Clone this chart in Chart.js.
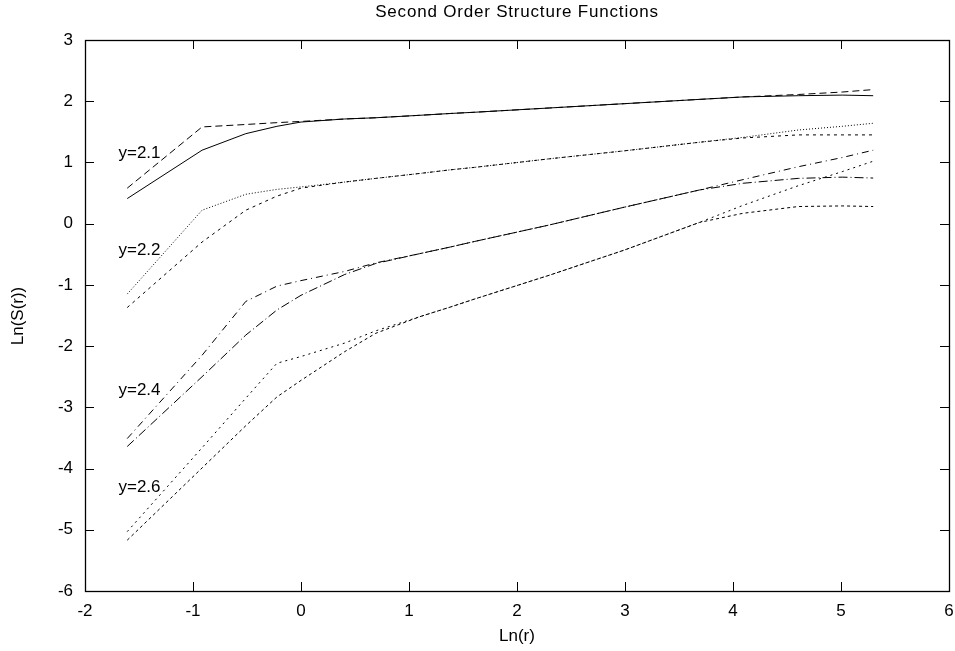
<!DOCTYPE html>
<html>
<head>
<meta charset="utf-8">
<script src="https://cdn.jsdelivr.net/npm/chart.js@4"></script>
<style>
  html, body { margin: 0; padding: 0; background: #fff; }
</style>
</head>
<body>
<canvas id="sf" width="955" height="651"></canvas>
<script>
// ln(r) sample points shared by every curve
const lnR = [-1.609, -0.916, -0.511, -0.223, 0, 0.405, 0.693, 1.099, 1.386, 1.609, 2.303, 2.996, 3.689, 4.094, 4.605, 5.011, 5.298];

// Ln(S(r)) for each y, two curves per y
const y21a = [0.41, 1.20, 1.47, 1.59, 1.66, 1.71, 1.73, 1.77, 1.80, 1.82, 1.89, 1.96, 2.03, 2.07, 2.09, 2.10, 2.09];
const y21b = [0.58, 1.58, 1.62, 1.65, 1.67, 1.71, 1.73, 1.77, 1.80, 1.82, 1.89, 1.96, 2.03, 2.07, 2.11, 2.15, 2.19];
const y22a = [-1.15, 0.22, 0.48, 0.56, 0.60, 0.68, 0.74, 0.82, 0.88, 0.92, 1.06, 1.19, 1.33, 1.41, 1.53, 1.59, 1.64];
const y22b = [-1.37, -0.30, 0.22, 0.45, 0.58, 0.68, 0.74, 0.82, 0.88, 0.92, 1.06, 1.19, 1.33, 1.40, 1.45, 1.45, 1.45];
const y24a = [-3.51, -2.15, -1.27, -1.02, -0.93, -0.78, -0.64, -0.49, -0.38, -0.29, -0.02, 0.27, 0.55, 0.72, 0.93, 1.08, 1.20];
const y24b = [-3.64, -2.50, -1.82, -1.41, -1.17, -0.83, -0.65, -0.49, -0.38, -0.29, -0.02, 0.27, 0.55, 0.66, 0.74, 0.76, 0.745];
const y26a = [-5.03, -3.66, -2.85, -2.28, -2.17, -1.95, -1.75, -1.52, -1.36, -1.23, -0.84, -0.43, 0.02, 0.30, 0.62, 0.85, 1.02];
const y26b = [-5.17, -3.99, -3.30, -2.83, -2.56, -2.09, -1.79, -1.52, -1.36, -1.23, -0.84, -0.43, 0.02, 0.17, 0.28, 0.29, 0.28];

const xTicks = [-2, -1, 0, 1, 2, 3, 4, 5, 6];
const yTicks = [-6, -5, -4, -3, -2, -1, 0, 1, 2, 3];

// curve labels, placed in data coordinates
const noteText = ['y=2.1', 'y=2.2', 'y=2.4', 'y=2.6'];
const noteX = [-1.69, -1.69, -1.69, -1.69];
const noteY = [1.15, -0.43, -2.72, -4.30];

const FONT = '"Liberation Sans", Arial, Helvetica, sans-serif';

function pts(ys) {
    return ys.map((v, i) => ({ x: lnR[i], y: v }));
}

function curve(ys, dash) {
    return {
        data: pts(ys),
        showLine: true,
        borderColor: '#000',
        borderWidth: 1,
        borderDash: dash,
        pointRadius: 0,
        fill: false,
        tension: 0
    };
}

// gnuplot style frame, inward ticks on all sides, title and labels
const gnuFrame = {
    id: 'gnuFrame',
    beforeDraw(chart) {
        const ctx = chart.ctx;
        ctx.save();
        ctx.fillStyle = '#fff';
        ctx.fillRect(0, 0, chart.width, chart.height);
        ctx.restore();
    },
    afterDatasetsDraw(chart) {
        const { ctx, chartArea: a, scales: { x, y } } = chart;
        const tl = 9;
        ctx.save();
        ctx.strokeStyle = '#000';
        ctx.lineWidth = 1;
        ctx.beginPath();
        xTicks.forEach(v => {
            const px = Math.round(x.getPixelForValue(v)) + 0.5;
            ctx.moveTo(px, a.bottom); ctx.lineTo(px, a.bottom - tl);
            ctx.moveTo(px, a.top); ctx.lineTo(px, a.top + tl);
        });
        yTicks.forEach(v => {
            const py = Math.round(y.getPixelForValue(v)) + 0.5;
            ctx.moveTo(a.left, py); ctx.lineTo(a.left + tl, py);
            ctx.moveTo(a.right, py); ctx.lineTo(a.right - tl, py);
        });
        ctx.stroke();
        ctx.lineWidth = 1.3;
        ctx.strokeRect(Math.round(a.left) + 0.5, Math.round(a.top) + 0.5,
            Math.round(a.right - a.left), Math.round(a.bottom - a.top));

        ctx.fillStyle = '#000';
        ctx.textAlign = 'center';
        ctx.textBaseline = 'middle';
        const cx = (a.left + a.right) / 2;
        ctx.font = '17px ' + FONT;
        ctx.letterSpacing = '0.8px';
        ctx.fillText('Second Order Structure Functions', cx, 12);
        ctx.letterSpacing = '0px';
        ctx.fillText('Ln(r)', cx, 636);
        ctx.save();
        ctx.translate(18, 316);
        ctx.rotate(-Math.PI / 2);
        ctx.fillText('Ln(S(r))', 0, 0);
        ctx.restore();

        ctx.textAlign = 'left';
        noteText.forEach((t, i) => {
            ctx.fillText(t, x.getPixelForValue(noteX[i]), y.getPixelForValue(noteY[i]));
        });
        ctx.restore();
    }
};

new Chart(document.getElementById('sf'), {
    type: 'scatter',
    data: {
        datasets: [
            curve(y21a, []),
            curve(y21b, [7, 4]),
            curve(y22a, [1, 2]),
            curve(y22b, [3, 4]),
            curve(y24a, [7, 4, 1, 4]),
            curve(y24b, [9, 3, 1, 3]),
            curve(y26a, [2, 4]),
            curve(y26b, [3, 3])
        ]
    },
    options: {
        responsive: false,
        animation: false,
        devicePixelRatio: 1,
        layout: { padding: { top: 40, right: 6, left: 0, bottom: 0 } },
        plugins: {
            legend: { display: false },
            tooltip: { enabled: false },
            title: { display: false }
        },
        scales: {
            x: {
                type: 'linear',
                min: -2, max: 6,
                afterFit: s => { s.height = 60; s.paddingLeft = 0; s.paddingRight = 0; },
                afterBuildTicks: s => { s.ticks = xTicks.map(v => ({ value: v })); },
                ticks: { color: '#000', padding: 10, font: { size: 17, family: FONT } },
                grid: { display: false, drawTicks: false },
                border: { display: false }
            },
            y: {
                type: 'linear',
                min: -6, max: 3,
                afterFit: s => { s.width = 85; s.paddingTop = 0; s.paddingBottom = 0; },
                afterBuildTicks: s => { s.ticks = yTicks.map(v => ({ value: v })); },
                ticks: { color: '#000', padding: 12, font: { size: 17, family: FONT } },
                grid: { display: false, drawTicks: false },
                border: { display: false }
            }
        }
    },
    plugins: [gnuFrame]
});
</script>
</body>
</html>
